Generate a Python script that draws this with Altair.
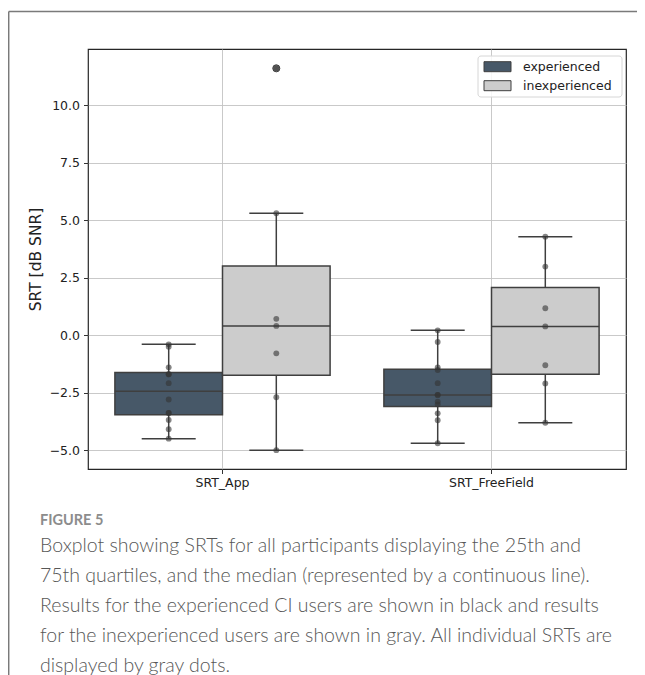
import altair as alt
import numpy as np
import pandas as pd

# ---------------- data ----------------
tests = ["SRT_App", "SRT_FreeField"]
groups = ["experienced", "inexperienced"]
colors = ["#475868", "#cccccc"]

app_experienced = [-0.39, -0.49, -1.39, -1.69, -1.69, -2.08, -2.79, -3.37, -3.37, -3.68, -4.08, -4.49]
app_inexperienced = [11.61, 5.31, 0.72, 0.41, -0.78, -2.69, -4.99]
freefield_experienced = [0.22, -0.29, -1.39, -1.505, -2.08, -2.59, -2.59, -2.88, -3.00, -3.39, -3.69, -4.69]
freefield_inexperienced = [4.29, 2.99, 1.18, 0.39, -1.30, -2.09, -3.80]

y_ticks = [-5.0, -2.5, 0.0, 2.5, 5.0, 7.5, 10.0]
y_domain = [-5.81, 12.45]
y_title = "SRT [dB SNR]"

caption_head = "FIGURE 5"
caption_lines = [
    "Boxplot showing SRTs for all participants displaying the 25th and",
    "75th quartiles, and the median (represented by a continuous line).",
    "Results for the experienced CI users are shown in black and results",
    "for the inexperienced users are shown in gray. All individual SRTs are",
    "displayed by gray dots.",
]

W, H = 538, 420
EDGE = "#3f3f3f"
DOT_D = 6.0

series = [
    ("SRT_App", "experienced", app_experienced),
    ("SRT_App", "inexperienced", app_inexperienced),
    ("SRT_FreeField", "experienced", freefield_experienced),
    ("SRT_FreeField", "inexperienced", freefield_inexperienced),
]

# ---------------- box statistics (computed from the points) ----------------
stat_rows, point_rows, outlier_rows = [], [], []
px_per_unit = H / (y_domain[1] - y_domain[0])
for test, grp, vals in series:
    v = np.array(vals, dtype=float)
    q1, med, q3 = np.percentile(v, [25, 50, 75])
    iqr = q3 - q1
    lo_f, hi_f = q1 - 1.5 * iqr, q3 + 1.5 * iqr
    inside = v[(v >= lo_f) & (v <= hi_f)]
    stat_rows.append(dict(test=test, group=grp, q1=q1, med=med, q3=q3,
                          lo=inside.min(), hi=inside.max()))
    for o in v[(v < lo_f) | (v > hi_f)]:
        outlier_rows.append(dict(test=test, group=grp, value=o))
    # simple swarm: a point that collides with an already centred one goes left
    centred = []
    for val in sorted(v):
        if any(abs(val - c) * px_per_unit < DOT_D for c in centred):
            side = "left"
        else:
            side = "center"
            centred.append(val)
        point_rows.append(dict(test=test, group=grp, value=val, side=side))

stats = pd.DataFrame(stat_rows)
points = pd.DataFrame(point_rows)
outliers = pd.DataFrame(outlier_rows)
one = pd.DataFrame({"k": [0]})
legend_df = pd.DataFrame({"group": groups})

# ---------------- encodings ----------------
x_enc = alt.X(
    "test:N",
    sort=tests,
    scale=alt.Scale(domain=tests, paddingInner=0, paddingOuter=0),
    axis=alt.Axis(title=None, labelAngle=0, grid=True, gridColor="#c3c3c3", gridWidth=0.9,
                  domain=False, ticks=True, tickSize=4.5, tickColor="#333333", tickWidth=1,
                  labelFont="DejaVu Sans", labelFontSize=12.5, labelColor="#222222",
                  labelPadding=3),
)
xo_enc = alt.XOffset("group:N", scale=alt.Scale(domain=groups, paddingInner=0, paddingOuter=0.25))
y_axis = alt.Axis(values=y_ticks, format=".1f", title=y_title, grid=True, gridColor="#c3c3c3",
                  gridWidth=0.9, domain=False, tickSize=4.5, tickColor="#333333", tickWidth=1,
                  labelFont="DejaVu Sans", labelFontSize=12.5, labelColor="#222222", labelPadding=4,
                  titleFont="DejaVu Sans", titleFontSize=15.5, titleFontWeight="normal",
                  titleColor="#222222", titleX=-53, titleY=H / 2, titleBaseline="middle",
                  titleAngle=270)
y_scale = alt.Scale(domain=y_domain, nice=False, zero=False)


def Y(field):
    return alt.Y(f"{field}:Q", scale=y_scale, axis=y_axis)


color_enc = alt.Color("group:N", scale=alt.Scale(domain=groups, range=colors), legend=None)

base = alt.Chart(stats)

boxes = base.mark_bar(stroke=EDGE, strokeWidth=1.5).encode(
    x=x_enc, xOffset=xo_enc, y=Y("q1"), y2="q3", color=color_enc)
wh_lo = base.mark_rule(color=EDGE, strokeWidth=1.5).encode(
    x=x_enc, xOffset=xo_enc, y=Y("lo"), y2="q1")
wh_hi = base.mark_rule(color=EDGE, strokeWidth=1.5).encode(
    x=x_enc, xOffset=xo_enc, y=Y("q3"), y2="hi")
cap_lo = base.mark_tick(orient="horizontal", size=54, thickness=1.5, color=EDGE, opacity=1).encode(
    x=x_enc, xOffset=xo_enc, y=Y("lo"))
cap_hi = base.mark_tick(orient="horizontal", size=54, thickness=1.5, color=EDGE, opacity=1).encode(
    x=x_enc, xOffset=xo_enc, y=Y("hi"))
medians = base.mark_tick(orient="horizontal", size=107.6, thickness=1.5, color=EDGE, opacity=1).encode(
    x=x_enc, xOffset=xo_enc, y=Y("med"))

fliers = alt.Chart(outliers).mark_point(shape="circle", filled=True, fill="#808080", stroke=EDGE,
                                        strokeWidth=1, size=50, opacity=1).encode(
    x=x_enc, xOffset=xo_enc, y=Y("value"))

dots_c = alt.Chart(points).transform_filter(alt.datum.side == "center").mark_circle(
    size=34, color="#333333", opacity=0.6).encode(x=x_enc, xOffset=xo_enc, y=Y("value"))
dots_l = alt.Chart(points).transform_filter(alt.datum.side == "left").mark_circle(
    size=34, color="#333333", opacity=0.6, xOffset=-6).encode(x=x_enc, xOffset=xo_enc, y=Y("value"))

# ---------------- legend (drawn inside the plot, top right) ----------------
leg_frame = alt.Chart(one).mark_rect(fill="white", fillOpacity=0.85, stroke="#d6d6d6",
                                     strokeWidth=1, cornerRadius=3).encode(
    x=alt.value(390), x2=alt.value(534), y=alt.value(7), y2=alt.value(48))
leg_layers = []
for i, g in enumerate(groups):
    top = 12.7 + 19 * i
    leg_layers.append(
        alt.Chart(legend_df).transform_filter(alt.datum.group == g).mark_rect(
            stroke=EDGE, strokeWidth=1).encode(
            x=alt.value(396), x2=alt.value(423), y=alt.value(top), y2=alt.value(top + 10),
            color=color_enc))
    leg_layers.append(
        alt.Chart(legend_df).transform_filter(alt.datum.group == g).mark_text(
            align="left", baseline="middle", font="DejaVu Sans", fontSize=12.5,
            color="#222222").encode(
            x=alt.value(435), y=alt.value(top + 5), text="group:N"))

# ---------------- figure frame and caption ----------------
frame_v = alt.Chart(one).mark_rule(color="#7a7a7a", strokeWidth=1.5).encode(
    x=alt.value(-79.3), y=alt.value(-37.5), y2=alt.value(640))
frame_h = alt.Chart(one).mark_rule(color="#7a7a7a", strokeWidth=1.5).encode(
    x=alt.value(-79.3), x2=alt.value(560), y=alt.value(-37.5))
head = alt.Chart(one).mark_text(align="left", baseline="alphabetic", font="Lato", fontSize=14.5,
                                fontWeight="bold", color="#8c8c8c").encode(
    x=alt.value(-48), y=alt.value(476), text=alt.value(caption_head))
caption = alt.Chart(one).mark_text(align="left", baseline="alphabetic", font="Lato", fontSize=19.5,
                                   fontWeight=300, lineHeight=30, color="#575757").encode(
    x=alt.value(-48), y=alt.value(503), text=alt.value(caption_lines))

chart = alt.layer(
    boxes, wh_lo, wh_hi, cap_lo, cap_hi, medians, fliers, dots_c, dots_l,
    leg_frame, *leg_layers, frame_v, frame_h, head, caption,
).properties(
    width=W, height=H,
    autosize=alt.AutoSizeParams(type="none"),
    padding={"left": 80, "top": 41, "right": 11, "bottom": 206},
    background="white",
).configure_view(stroke="#262626", strokeWidth=1.2)

chart.save("out.html", embed_options={"renderer": "svg", "actions": False})
